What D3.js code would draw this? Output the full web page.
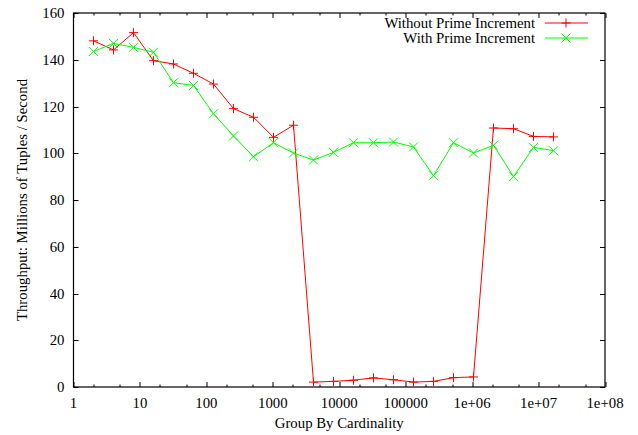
<!DOCTYPE html>
<html>
<head>
  <script src="https://d3js.org/d3.v7.min.js"></script>
  <style>
    body { margin: 0; background: #fff; }
    svg text { font-family: "Liberation Serif", "Times New Roman", serif; font-size: 14.8px; fill: #000; }
  </style>
</head>
<body>
  <div id="chart"></div>
  <script>
    // group-by cardinality = 2^1 .. 2^24
    const exponents = d3.range(1, 25);
    const withoutPrime = [148.1, 144.2, 151.6, 139.6, 138.2, 134.2, 129.6, 119.1, 115.4, 106.8, 112.0,
      2.1, 2.4, 2.9, 3.9, 3.1, 2.1, 2.4, 4.0, 4.3, 110.8, 110.5, 107.2, 107.0];
    const withPrime = [143.5, 147.0, 145.3, 143.2, 130.2, 129.0, 116.9, 107.4, 98.5, 104.5, 100.1,
      97.1, 100.4, 104.5, 104.5, 104.8, 102.7, 90.4, 104.5, 100.1, 103.4, 90.0, 102.5, 101.1];
    const xTicks = [1, 10, 100, 1000, 10000, 100000, 1e6, 1e7, 1e8];
    const xTickLabels = ["1", "10", "100", "1000", "10000", "100000", "1e+06", "1e+07", "1e+08"];
    const yTicks = [0, 20, 40, 60, 80, 100, 120, 140, 160];
    const seriesNames = ["Without Prime Increment", "With Prime Increment"];

    const W = 638, H = 435;
    const margin = {top: 13, right: 33, bottom: 48, left: 73.5};
    const width = W - margin.left - margin.right;
    const height = H - margin.top - margin.bottom;

    const svg = d3.select("#chart").append("svg")
      .attr("width", W).attr("height", H);
    const g = svg.append("g").attr("transform", `translate(${margin.left},${margin.top})`);

    const x = d3.scaleLog().domain([1, 1e8]).range([0, width]);
    const y = d3.scaleLinear().domain([0, 160]).range([height, 0]);

    // minor ticks at 2 and 5 in each decade
    const minor = [];
    for (let e = 0; e < 8; e++) { minor.push(2 * 10 ** e, 5 * 10 ** e); }

    const tickG = g.append("g").attr("stroke", "#000").attr("stroke-width", 1);
    xTicks.forEach(v => {
      const px = Math.round(x(v)) + 0.5;
      tickG.append("line").attr("x1", px).attr("x2", px).attr("y1", height).attr("y2", height - 5);
      tickG.append("line").attr("x1", px).attr("x2", px).attr("y1", 0).attr("y2", 5);
    });
    minor.forEach(v => {
      const px = Math.round(x(v)) + 0.5;
      tickG.append("line").attr("x1", px).attr("x2", px).attr("y1", height).attr("y2", height - 2.5);
      tickG.append("line").attr("x1", px).attr("x2", px).attr("y1", 0).attr("y2", 2.5);
    });
    yTicks.forEach(v => {
      const py = Math.round(y(v)) + 0.5;
      tickG.append("line").attr("x1", 0).attr("x2", 5).attr("y1", py).attr("y2", py);
      tickG.append("line").attr("x1", width).attr("x2", width - 5).attr("y1", py).attr("y2", py);
    });

    g.selectAll(".xl").data(xTicks).enter().append("text")
      .attr("x", d => x(d)).attr("y", height + 21)
      .attr("text-anchor", "middle")
      .text((d, i) => xTickLabels[i]);
    g.selectAll(".yl").data(yTicks).enter().append("text")
      .attr("x", -9).attr("y", d => y(d) + 5)
      .attr("text-anchor", "end")
      .text(d => d);

    g.append("rect").attr("x", 0).attr("y", 0).attr("width", width).attr("height", height)
      .attr("fill", "none").attr("stroke", "#000").attr("stroke-width", 1.2);

    svg.append("text").attr("x", margin.left + width / 2).attr("y", 428)
      .attr("text-anchor", "middle").text("Group By Cardinality");
    svg.append("text").attr("transform", `translate(27,${margin.top + height / 2}) rotate(-90)`)
      .attr("text-anchor", "middle").text("Throughput: Millions of Tuples / Second");

    const line = d3.line().x(d => x(2 ** d[0])).y(d => y(d[1]));
    const colors = ["#ff0000", "#00ff00"];
    const plus = (sel, s) => sel.attr("d", `M${-s},0H${s}M0,${-s}V${s}`);
    const cross = (sel, s) => sel.attr("d", `M${-s},${-s}L${s},${s}M${-s},${s}L${s},${-s}`);

    [withoutPrime, withPrime].forEach((vals, si) => {
      const pts = exponents.map((e, i) => [e, vals[i]]);
      g.append("path").datum(pts).attr("d", line)
        .attr("fill", "none").attr("stroke", colors[si]).attr("stroke-width", 1);
      g.selectAll(".m" + si).data(pts).enter().append("path")
        .attr("transform", d => `translate(${x(2 ** d[0])},${y(d[1])})`)
        .attr("stroke", colors[si]).attr("stroke-width", 1).attr("fill", "none")
        .call(si === 0 ? s => plus(s, 4.5) : s => cross(s, 4.5));
    });

    // legend
    const leg = svg.append("g");
    seriesNames.forEach((name, i) => {
      const ly = 23 + i * 15;
      leg.append("text").attr("x", 535).attr("y", ly + 5).attr("text-anchor", "end").text(name);
      leg.append("line").attr("x1", 545).attr("x2", 588).attr("y1", ly).attr("y2", ly)
        .attr("stroke", colors[i]).attr("stroke-width", 1);
      leg.append("path").attr("transform", `translate(566,${ly})`)
        .attr("stroke", colors[i]).attr("fill", "none")
        .call(i === 0 ? s => plus(s, 4.5) : s => cross(s, 4.5));
    });
  </script>
</body>
</html>
